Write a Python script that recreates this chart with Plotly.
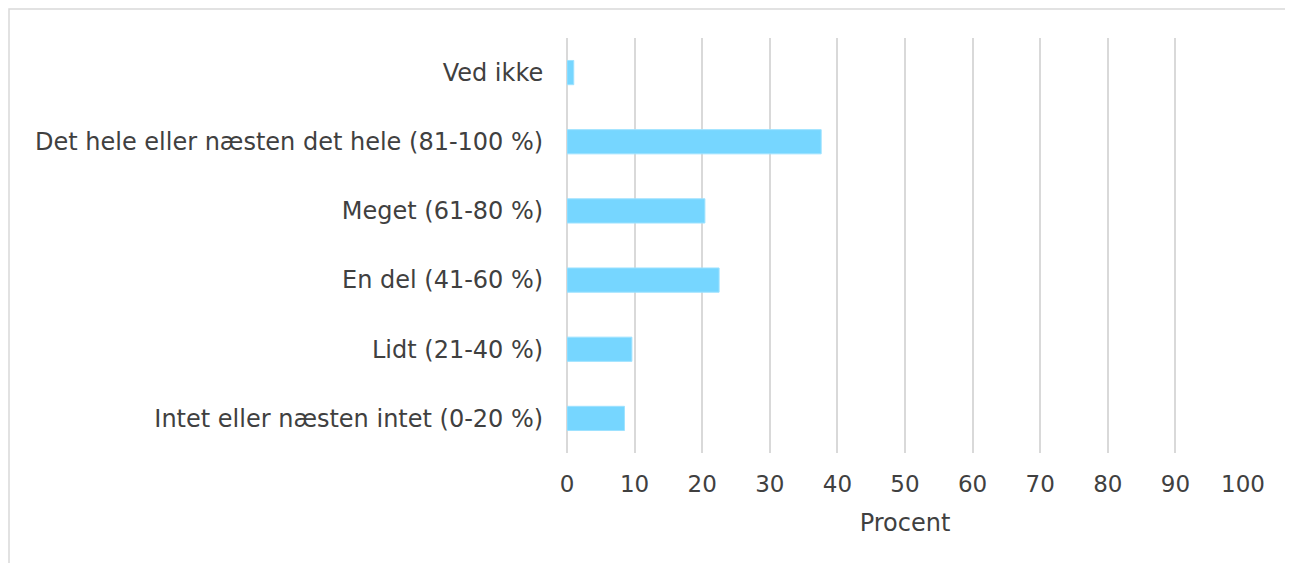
import plotly.graph_objects as go

categories = [
    "Intet eller næsten intet (0-20 %)",
    "Lidt (21-40 %)",
    "En del (41-60 %)",
    "Meget (61-80 %)",
    "Det hele eller næsten det hele (81-100 %)",
    "Ved ikke",
]
values = [8.5, 9.6, 22.5, 20.4, 37.6, 1.0]
tick_vals = [0, 10, 20, 30, 40, 50, 60, 70, 80, 90, 100]
x_title = "Procent"

OFF = 8  # default page body margin
W, H = 1293 - OFF, 563 - OFF
L, T = 567 - OFF, 38 - OFF
pw, ph = 676, 415
R, B = W - L - pw, H - T - ph

fig = go.Figure(
    go.Bar(
        x=values,
        y=categories,
        orientation="h",
        width=0.35,
        marker=dict(color="#76D6FF", line=dict(color="#9EE2FF", width=1)),
    )
)

lab_font = dict(family="DejaVu Sans, Verdana, sans-serif", size=24, color="#404040")
tick_font = dict(family="DejaVu Sans, Verdana, sans-serif", size=23, color="#404040")

fig.update_layout(
    width=W,
    height=H,
    margin=dict(l=L, r=R, t=T, b=B, pad=0),
    paper_bgcolor="white",
    plot_bgcolor="white",
    font=lab_font,
    showlegend=False,
    shapes=[
        dict(
            type="rect",
            xref="paper",
            yref="paper",
            x0=(9 - OFF - L) / pw,
            x1=(W + 20 - L) / pw,
            y0=-(H + 20 - T - ph) / ph,
            y1=(ph + T - (9 - OFF)) / ph,
            line=dict(color="#D9D9D9", width=1.5),
            fillcolor="rgba(0,0,0,0)",
            layer="below",
        )
    ],
)

fig.update_xaxes(
    range=[0, 100],
    tickvals=tick_vals,
    showgrid=True,
    gridcolor="#D9D9D9",
    gridwidth=1.6,
    zeroline=True,
    zerolinecolor="#D9D9D9",
    zerolinewidth=1.6,
    showline=False,
    ticks="outside",
    ticklen=10,
    tickcolor="rgba(0,0,0,0)",
    tickfont=tick_font,
    title=dict(text=x_title, font=lab_font, standoff=18),
    fixedrange=True,
)
fig.update_yaxes(
    categoryorder="array",
    categoryarray=categories,
    showgrid=False,
    zeroline=False,
    showline=False,
    ticks="outside",
    ticklen=18,
    tickcolor="rgba(0,0,0,0)",
    tickfont=lab_font,
    range=[-0.5, 5.5],
    fixedrange=True,
)

fig.write_html("out.html")
